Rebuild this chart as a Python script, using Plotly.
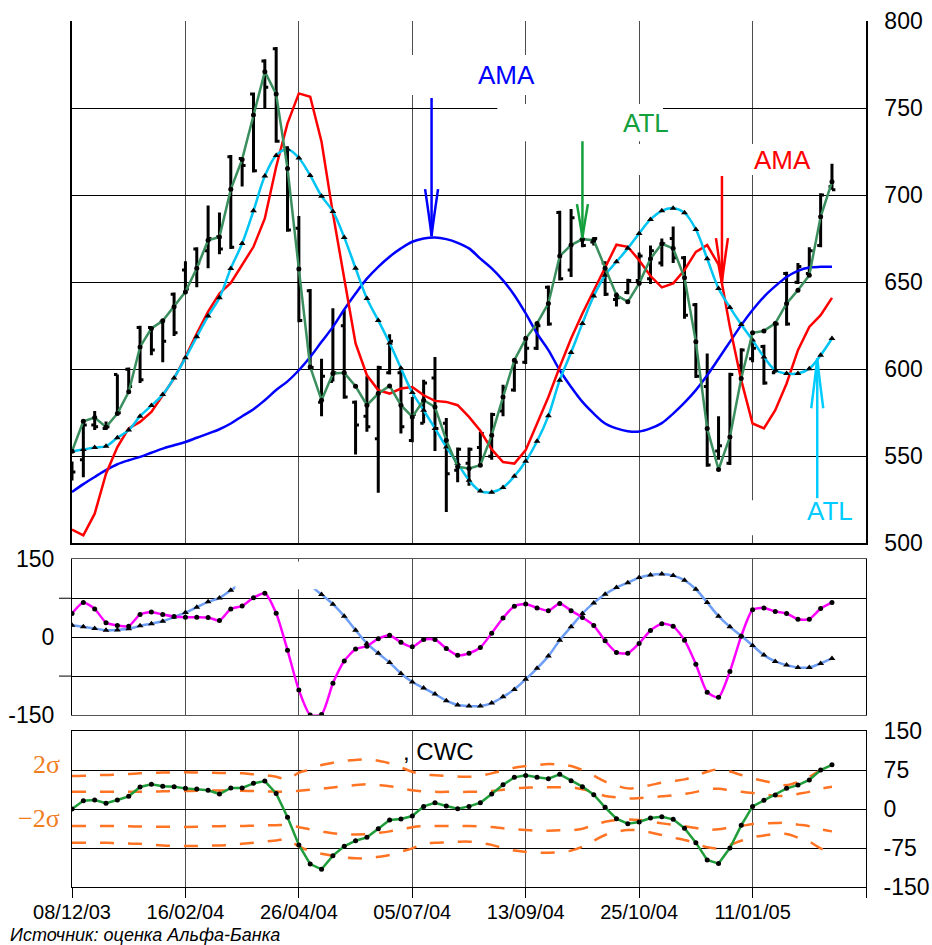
import plotly.graph_objects as go

# ---------------- data (weekly points, index 0..67) ----------------
tick_labels = ["08/12/03", "16/02/04", "26/04/04", "05/07/04", "13/09/04", "25/10/04", "11/01/05"]
tick_pos = [0, 10, 20, 30, 40, 50, 60, 70]

bar_high = [547, 570, 576, 570, 597, 601, 625, 624, 628, 644, 662, 670, 694, 690, 723, 721, 759, 778, 785, 728,
            688, 646, 606, 635, 634, 582, 596, 602, 620, 601, 584, 594, 607, 572, 555, 555, 564, 575, 591, 605,
            619, 626, 648, 691, 692, 678, 676, 662, 644, 652, 667, 671, 675, 682, 665, 638, 609, 573, 598, 612,
            617, 614, 627, 656, 661, 670, 701, 718]
bar_low = [536, 538, 565, 565, 574, 587, 592, 608, 604, 619, 644, 647, 658, 666, 669, 705, 713, 750, 730, 679,
           627, 600, 573, 593, 583, 551, 564, 529, 597, 563, 558, 569, 553, 518, 535, 533, 544, 548, 573, 587,
           603, 611, 625, 651, 653, 670, 671, 642, 636, 643, 648, 649, 659, 661, 629, 595, 544, 548, 545, 594,
           604, 591, 598, 625, 649, 654, 670, 703]
bar_open = [537, 548, 568, 566, 597, 600, 624, 624, 627, 643, 657, 669, 668, 676, 722, 721, 758, 777, 784, 727,
            681, 645, 581, 593, 625, 581, 573, 560, 598, 598, 559, 569, 595, 569, 542, 546, 555, 550, 576, 588,
            604, 612, 647, 690, 657, 674, 673, 661, 640, 644, 651, 652, 661, 675, 664, 637, 590, 553, 546, 602,
            606, 613, 598, 655, 650, 655, 671, 705]
bar_close = [541, 568, 567, 567, 575, 590, 594, 611, 616, 621, 646, 661, 675, 669, 670, 717, 714, 762, 731, 680,
             628, 601, 596, 598, 584, 568, 567, 601, 616, 567, 574, 592, 566, 540, 554, 554, 563, 574, 589, 604,
             612, 625, 626, 652, 687, 671, 675, 643, 641, 651, 665, 668, 672, 664, 631, 596, 545, 556, 597, 611,
             612, 592, 626, 626, 659, 668, 700, 703]

ama_slow = [529.5, 534, 538.1, 542, 545.4, 547.7, 549.6, 552, 554.4, 556.3, 558.2, 560.6, 563, 565.5, 568.8, 573,
            577, 582.2, 588, 593, 599.4, 607, 615.7, 624.3, 634.3, 643.5, 652, 658.8, 664.6, 669.4, 673.2, 675.1,
            675.7, 674.7, 672.6, 669.4, 663.5, 657.9, 651, 642.5, 632, 620.5, 611, 599.4, 589.8, 581.2, 574.5,
            568.8, 566, 564.4, 564.2, 566, 569, 574.5, 580.8, 588, 596.5, 606, 615.7, 625.3, 634, 641.6, 647.7,
            653, 656.5, 658.4, 658.8, 658.8]
ama_fast = [507.9, 504.6, 517, 540, 555.3, 566, 569.7, 575.5, 585, 594.7, 607, 620.5, 633, 643.5, 649.6, 660.2,
            670.3, 686.6, 716.3, 741.2, 758.4, 756.5, 730.6, 689.5, 653, 614.8, 596.5, 588, 586, 588.9, 589.8,
            585, 581.8, 581.2, 579.3, 572.6, 564.6, 553.9, 546.7, 545.8, 553.5, 568.4, 584, 601.3, 617.6, 632,
            645.4, 658.8, 671.5, 670.3, 662.6, 653.5, 647, 649.3, 657, 667.4, 671.3, 660, 624.3, 593.7, 568.8, 566,
            576.4, 591.8, 610.9, 624.3, 631, 641]
atl_slow = [552.9, 553.9, 555, 555.8, 560.6, 565, 573, 579.1, 585.4, 595, 606.5, 618.6, 630.5, 641, 657.9, 672.2,
            691, 710.9, 722.8, 726.3, 721.3, 711.3, 699.4, 690.6, 675.7, 658, 640.6, 628, 615, 600.6, 586.6, 576.4,
            566, 555.3, 545.8, 536.2, 530, 529.3, 532, 538.5, 547.1, 558.6, 573.2, 593.7, 609.6, 626.3, 642, 654,
            661.7, 669.4, 678, 686, 691, 692.5, 689.8, 680.3, 663.4, 646.4, 635.5, 625.7, 616.7, 607, 599.4, 597.5,
            597.5, 600.2, 608, 617.6]
atl_fast = [552.9, 570.1, 572.2, 566.8, 574.5, 587, 612.8, 623.4, 627.8, 635.8, 644.4, 658, 674.1, 676, 703.3, 720.5,
            746, 770.9, 758, 715.3, 657.5, 601.3, 582.2, 597.5, 597.9, 590.2, 579.3, 586, 590.4, 579.3, 572.6,
            582.2, 578.3, 559.2, 543.9, 543, 544.8, 562.1, 584, 605.2, 617.6, 626.3, 637.8, 665, 671.3, 674.7,
            674.1, 658, 642.5, 638.7, 649.3, 663.5, 672, 669.4, 652.5, 615.7, 566, 542.4, 561.1, 594.7, 620.9, 622,
            626.3, 637.8, 645.4, 654, 687.5, 707.6]

osc_fast = [45.6, 66.7, 54.5, 28, 22.4, 21, 43.6, 48.7, 43.6, 40, 38.5, 38.5, 37.8, 32, 54.5, 60, 76, 84.6, 46, -25,
            -102, -150, -149, -89, -46, -23, -17.3, -3, 3.8, -10, -18.6, -4.5, -4.5, -21.8, -35, -31, -19.9, 7.7,
            37, 59.6, 64, 56.4, 51, 65, 51, 37.8, 22.4, -7, -29.5, -31, -12, 12.8, 26, 21, -5.8, -52, -106, -116,
            -66, 1.9, 52.6, 56.4, 49.4, 45.6, 34.6, 34.6, 55, 67]
osc_slow = [23, 19.9, 16.7, 13.5, 14, 16, 21.8, 26, 30.8, 39, 47.4, 57.7, 68, 75.6, 90.4, 104, 115, 122, 124, 121,
            113, 99, 82, 63.5, 40.4, 13.5, -12, -31, -49, -70, -86.5, -98, -109.6, -122.5, -130.8, -132.7, -132.7,
            -127, -115, -100.6, -81, -60, -36.5, -5.8, 20, 45.6, 66, 82.7, 95.5, 105, 114.8, 119.8, 121.8, 118.6,
            109.6, 92.3, 66.7, 40.4, 19.9, 2.6, -16, -34.6, -46.8, -53.8, -58.3, -58.3, -50.6, -41]

cwc = [0, 16, 17.3, 11, 17.3, 24.4, 42.3, 47.4, 44, 43, 39.7, 38.5, 36, 28.8, 40.4, 40.4, 49.4, 53.8, 30, -16, -69,
       -106, -116, -89.7, -71.8, -61, -54.5, -37.8, -21, -19, -13.5, 5, 12, 5.8, 0.6, 5, 12, 28.8, 46.8, 60.9, 64.7,
       60.9, 58.3, 66.7, 54.5, 43, 27.6, 3.2, -18.6, -28.2, -25, -17.3, -14.7, -19.9, -37, -64.7, -98, -105, -75,
       -31.4, 5, 16.7, 27, 39.7, 46, 55.8, 75, 85]
band_up2 = [63.5, 64, 65, 65.4, 66.5, 67.5, 68.6, 69.5, 70, 70.5, 70.5, 70.2, 69.9, 69.5, 69, 68.6, 67, 65.4, 62, 57,
            70, 76, 84.6, 89, 92.3, 94.5, 95.5, 93, 88, 80, 71.7, 66.7, 65, 63.5, 62.5, 62, 64.5, 68.6, 74, 79.5,
            82.5, 84.6, 86.5, 85.5, 82.7, 75, 64, 52.6, 45, 39.7, 41.7, 46, 50.6, 54, 57, 64, 71.7, 76.3, 72, 65.4,
            59, 54, 49.4, 46, 52, 62, 75, 86.5]
band_up1 = [33.3, 33.3, 33.3, 33.3, 33.3, 33.3, 33.3, 33.5, 34, 34.6, 34.6, 35, 35.3, 35.5, 35.5, 35, 34.5, 34, 33.5,
            33, 35, 37, 39, 41.5, 44, 46, 47.5, 46, 44, 40, 36, 34, 33, 33, 33, 33, 33.5, 34.6, 37, 39.7, 41, 41.7,
            41.7, 41.7, 41.7, 37.8, 33, 25, 22.5, 20.5, 21, 22.5, 24.4, 26.5, 29, 33, 37.8, 39, 36, 33, 31, 28,
            25.6, 25.6, 29, 33, 39, 43]
band_dn1 = [-32.7, -32.7, -32.7, -32.7, -33, -33.3, -33.5, -34, -34, -34.3, -34.6, -34.3, -33.5, -33, -32.7, -32.7,
            -32, -31.5, -31, -30.8, -35, -39, -43, -46.8, -48.5, -49, -48.5, -46, -43, -39, -35, -33, -32.7, -32.7,
            -32.7, -32.7, -33.5, -34.6, -37, -39, -40.5, -41.7, -41.7, -41, -41, -37.8, -31, -24.4, -21.5, -20, -21,
            -24, -27.6, -30.5, -33, -36.5, -40, -39, -35.5, -32.7, -28.8, -27.5, -26.9, -26.9, -30, -33, -39, -43]
band_dn2 = [-64.7, -64.7, -64.7, -65, -66, -66.5, -67, -68.5, -70, -71, -71, -71, -70.5, -70, -69, -67, -65, -62.8,
            -60.5, -58.3, -72, -81, -86, -90, -93, -94.9, -94.9, -92, -88.5, -82, -75.6, -67, -65, -64, -63, -62.8,
            -65, -69, -75, -80, -82.5, -84, -84, -83, -80, -72.4, -61, -50, -44, -40.4, -41, -45, -50, -55, -59.6,
            -66, -73.7, -75.6, -69, -61, -54.5, -51, -48, -48, -55, -62.8, -75.6, -85]

idx = list(range(len(bar_high)))

# ---------------- style ----------------
FONT = "Liberation Sans, Arial, sans-serif"
NARROW = "Liberation Sans Narrow, Arial Narrow, Liberation Sans, Arial, sans-serif"
SERIF = "Liberation Serif, Times New Roman, serif"
GRID = "#4d4d4d"
ORANGE = "#ff7322"

fig = go.Figure()

# main panel
fig.add_trace(go.Ohlc(x=idx, open=bar_open, high=bar_high, low=bar_low, close=bar_close,
                      increasing=dict(line=dict(color="black", width=3)),
                      decreasing=dict(line=dict(color="black", width=3)),
                      tickwidth=0.3, xaxis="x", yaxis="y", hoverinfo="skip", showlegend=False))
fig.add_trace(go.Scatter(x=idx, y=ama_slow, mode="lines", line=dict(color="#0000ff", width=2.5, shape="spline"),
                         xaxis="x", yaxis="y", showlegend=False))
fig.add_trace(go.Scatter(x=idx, y=ama_fast, mode="lines", line=dict(color="#ff0000", width=2.5),
                         xaxis="x", yaxis="y", showlegend=False))
fig.add_trace(go.Scatter(x=idx, y=atl_slow, mode="lines+markers",
                         line=dict(color="#00c4f2", width=2.5, shape="spline"),
                         marker=dict(symbol="triangle-up", color="black", size=6),
                         xaxis="x", yaxis="y", showlegend=False))
fig.add_trace(go.Scatter(x=idx, y=atl_fast, mode="lines+markers", line=dict(color="#3b8f5e", width=2.5),
                         marker=dict(symbol="circle", color="black", size=5),
                         xaxis="x", yaxis="y", showlegend=False))

# middle panel
fig.add_trace(go.Scatter(x=idx, y=osc_slow, mode="lines+markers",
                         line=dict(color="#6f9ef5", width=2.5, shape="spline"),
                         marker=dict(symbol="triangle-up", color="black", size=6),
                         xaxis="x2", yaxis="y2", showlegend=False))
fig.add_trace(go.Scatter(x=idx, y=osc_fast, mode="lines+markers",
                         line=dict(color="#ff00ff", width=2.5, shape="spline", smoothing=0.6),
                         marker=dict(symbol="circle", color="black", size=5),
                         xaxis="x2", yaxis="y2", showlegend=False))

# bottom panel
for band in (band_up2, band_up1, band_dn1, band_dn2):
    fig.add_trace(go.Scatter(x=idx, y=band, mode="lines",
                             line=dict(color=ORANGE, width=2.5, dash="14px,14px", shape="spline"),
                             xaxis="x3", yaxis="y3", showlegend=False))
fig.add_trace(go.Scatter(x=idx, y=cwc, mode="lines+markers", line=dict(color="#1f9d3a", width=2.5),
                         marker=dict(symbol="circle", color="black", size=5),
                         xaxis="x3", yaxis="y3", showlegend=False))

# ---------------- axes ----------------
xcommon = dict(range=[0, 70], tickvals=tick_pos, showgrid=True, gridcolor=GRID, gridwidth=1,
               zeroline=False, rangeslider=dict(visible=False), fixedrange=True, automargin=False)
fig.update_layout(
    width=932, height=945, margin=dict(l=72, r=66, t=21, b=58, autoexpand=False),
    paper_bgcolor="white", plot_bgcolor="white", showlegend=False,
    font=dict(family=FONT, color="black"),
    xaxis=dict(**xcommon, anchor="y", showticklabels=False, ticks="", showline=True, linecolor="black",
               linewidth=1.5),
    yaxis=dict(domain=[0.3969, 1], range=[500, 800], tickvals=[500, 550, 600, 650, 700, 750, 800],
               side="right", showline=True, mirror=True, linecolor="black", linewidth=1.5,
               gridcolor="black", gridwidth=1, zeroline=False, ticks="", ticklabelstandoff=12,
               tickfont=dict(size=23), automargin=False),
    xaxis2=dict(**xcommon, anchor="y2", matches="x", showticklabels=False, ticks="", showline=True,
                mirror=True, linecolor="#555555", linewidth=1),
    yaxis2=dict(domain=[0.1986, 0.3784], range=[-150, 150], tickvals=[-150, -75, 0, 75, 150],
                ticktext=["-150", "", "0", "", "150"], side="left", showline=True, mirror=True,
                linecolor="black", linewidth=1, gridcolor="black", gridwidth=1, zeroline=False, ticks="",
                ticklabelstandoff=12, tickfont=dict(size=23), automargin=False),
    xaxis3=dict(**xcommon, anchor="y3", matches="x", ticktext=tick_labels + [""], ticks="outside",
                ticklen=10, tickcolor="black", showline=True, mirror=True, linecolor="black", linewidth=1,
                ticklabelstandoff=-3, tickfont=dict(size=20, family=NARROW)),
    yaxis3=dict(domain=[0, 0.1801], range=[-150, 150], tickvals=[-150, -75, 0, 75, 150],
                ticktext=["-150", "-75", "0", "75", "150"], side="right", showline=True, mirror=True,
                linecolor="black", linewidth=1, gridcolor="black", gridwidth=1, zeroline=False, ticks="",
                ticklabelstandoff=12, tickfont=dict(size=23), automargin=False),
)

shapes = []
# white label boxes hiding the grid (main panel)
for x0, x1, y0, y1 in [(28.9, 43.0, 757.5, 780.5), (37.5, 52.1, 731, 752.3),
                       (46.5, 65.5, 711.5, 729.3), (59.3, 69.6, 504.6, 524.7)]:
    shapes.append(dict(type="rect", xref="x", yref="y", x0=x0, x1=x1, y0=y0, y1=y1,
                       fillcolor="white", line=dict(width=0), layer="between"))
# white box in the middle panel
shapes.append(dict(type="rect", xref="x2", yref="y2", x0=14.4, x1=21.5, y0=92.3, y1=146,
                   fillcolor="white", line=dict(width=0), layer="above"))
# outer ticks at +-75 on middle panel left side
for v in (75, -75):
    shapes.append(dict(type="line", xref="paper", yref="y2", x0=-13 / 794, x1=0, y0=v, y1=v,
                       line=dict(color="black", width=1)))

# arrows: (tip x, tip y, tail y, colour, head length px, head half width px)
arrows = [(31.7, 676.4, 755.7, "#0000ff", 47, 6.5),
          (45.0, 675.3, 731.0, "#14a03c", 34, 5.5),
          (57.3, 650.0, 710.9, "#ff0000", 44, 6.0),
          (65.7, 606.3, 525.9, "#00ccff", 50, 6.0)]
for tx, ty, tail, col, hl, hw in arrows:
    shapes.append(dict(type="line", xref="x", yref="y", x0=tx, x1=tx, y0=tail, y1=ty,
                       line=dict(color=col, width=2.5), layer="above"))
    s = 1 if tail > ty else -1
    path = (f"M {-hw},{s*hl} Q {-hw*0.25},{s*hl*0.3} 0,0 Q {hw*0.25},{s*hl*0.3} {hw},{s*hl}")
    shapes.append(dict(type="path", xref="x", yref="y", xsizemode="pixel", ysizemode="pixel",
                       xanchor=tx, yanchor=ty, path=path, line=dict(color=col, width=2.5),
                       layer="above"))
fig.update_layout(shapes=shapes)

annotations = [
    dict(text="AMA", x=38.3, y=769, xref="x", yref="y", font=dict(size=26, color="#0000ff")),
    dict(text="ATL", x=50.6, y=741.4, xref="x", yref="y", font=dict(size=26, color="#14a03c")),
    dict(text="AMA", x=62.6, y=720.1, xref="x", yref="y", font=dict(size=26, color="#ff0000")),
    dict(text="ATL", x=66.8, y=518.4, xref="x", yref="y", font=dict(size=26, color="#00ccff")),
    dict(text=", CWC", x=32.3, y=111.5, xref="x3", yref="y3", font=dict(size=24, color="black")),
    dict(text="2σ", x=-10 / 794, y=(887 - 781) / 866, xref="paper", yref="paper", xanchor="right",
         font=dict(size=26, color="#f07d1e", family=SERIF)),
    dict(text="−2σ", x=-10 / 794, y=(887 - 835) / 866, xref="paper", yref="paper", xanchor="right",
         font=dict(size=26, color="#f07d1e", family=SERIF)),
    dict(text="Источник: оценка Альфа-Банка", x=(9 - 72) / 794, y=-(935 - 887) / 866, xref="paper",
         yref="paper", xanchor="left", yanchor="middle", borderpad=0,
         font=dict(size=18, color="black", style="italic")),
]
for a in annotations:
    a.setdefault("showarrow", False)
fig.update_layout(annotations=annotations)

fig.write_html("out.html")
